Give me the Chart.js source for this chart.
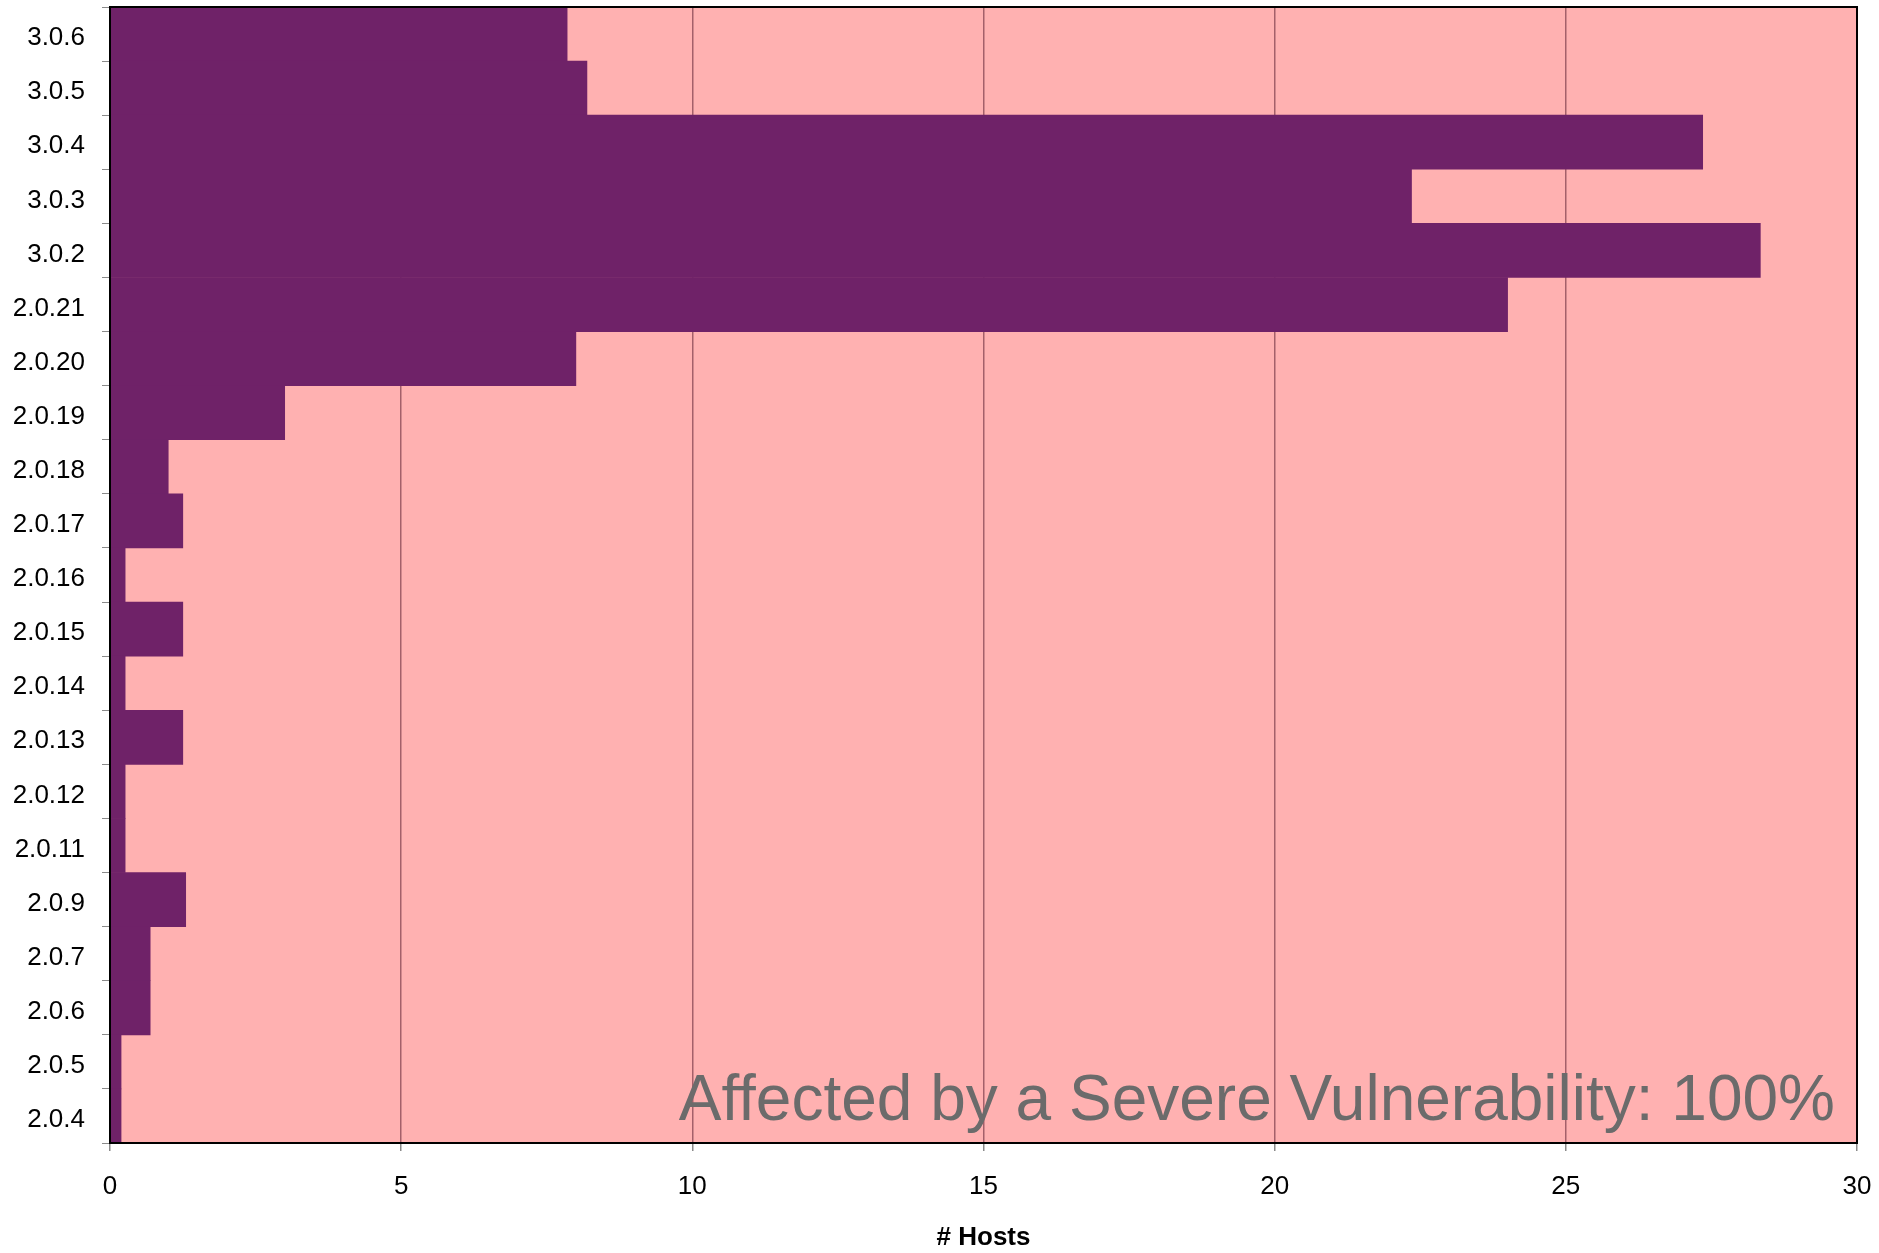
<!DOCTYPE html>
<html>
<head>
<meta charset="utf-8">
<script src="https://cdn.jsdelivr.net/npm/chart.js@4/dist/chart.umd.min.js"></script>
<style>
html,body{margin:0;padding:0;background:#fff;}
#wrap{width:1879px;height:1253px;}
</style>
</head>
<body>
<div id="wrap"><canvas id="c" width="1879" height="1253"></canvas></div>
<script>
const categories = ["3.0.6","3.0.5","3.0.4","3.0.3","3.0.2","2.0.21","2.0.20","2.0.19","2.0.18","2.0.17","2.0.16","2.0.15","2.0.14","2.0.13","2.0.12","2.0.11","2.0.9","2.0.7","2.0.6","2.0.5","2.0.4"];
const hosts = [7.85,8.19,27.35,22.35,28.34,24.0,8.0,3.0,1.0,1.25,0.26,1.25,0.26,1.25,0.26,0.26,1.3,0.69,0.69,0.19,0.19];
const xTicks = [0,5,10,15,20,25,30];
const axisTitle = "# Hosts";
const annotationText = "Affected by a Severe Vulnerability: 100%";

const FONT = '"Liberation Sans", Arial, sans-serif';

const plotBg = {
  id:'plotBg',
  beforeDraw(chart){
    const {ctx, chartArea:a} = chart;
    ctx.save();
    ctx.fillStyle = '#ffb1b1';
    ctx.fillRect(a.left, a.top, a.right-a.left, a.bottom-a.top);
    ctx.restore();
  },
  afterDraw(chart){
    const {ctx, chartArea:a} = chart;
    ctx.save();
    ctx.strokeStyle = '#000';
    ctx.lineWidth = 2;
    ctx.strokeRect(a.left, a.top, a.right-a.left, a.bottom-a.top);
    ctx.font = '64px ' + FONT;
    ctx.fillStyle = '#6b6b6b';
    ctx.textAlign = 'right';
    ctx.textBaseline = 'alphabetic';
    ctx.fillText(annotationText, a.right - 22, a.bottom - 23);
    ctx.restore();
  }
};

function zeroPad(scale){
  scale.paddingTop = 0; scale.paddingBottom = 0;
  scale.paddingLeft = 0; scale.paddingRight = 0;
}

new Chart(document.getElementById('c'), {
  type:'bar',
  data:{
    labels:categories,
    datasets:[{
      data:hosts,
      backgroundColor:'#6f2268',
      borderWidth:0,
      barPercentage:1,
      categoryPercentage:1
    }]
  },
  options:{
    indexAxis:'y',
    responsive:false,
    animation:false,
    events:[],
    layout:{padding:{top:7,right:22,left:0,bottom:0}},
    plugins:{legend:{display:false},tooltip:{enabled:false}},
    scales:{
      x:{
        type:'linear',
        min:0,max:30,
        afterBuildTicks(scale){ scale.ticks = xTicks.map(v=>({value:v})); },
        afterFit(scale){ scale.height = 110; zeroPad(scale); },
        grid:{color:'#a4606a',lineWidth:1.5,tickColor:'#8a8a8a',tickLength:8,drawOnChartArea:true},
        border:{display:false},
        ticks:{color:'#000',font:{family:FONT,size:26},padding:20,maxRotation:0},
        title:{display:true,text:axisTitle,color:'#000',font:{family:FONT,size:26,weight:'bold'},padding:{top:0,bottom:0}}
      },
      y:{
        afterFit(scale){ scale.width = 110; zeroPad(scale); },
        grid:{offset:true,drawOnChartArea:false,tickColor:'#8a8a8a',tickLength:8},
        border:{display:false},
        ticks:{color:'#000',font:{family:FONT,size:26},padding:17,autoSkip:false,labelOffset:4}
      }
    }
  },
  plugins:[plotBg]
});
</script>
</body>
</html>
